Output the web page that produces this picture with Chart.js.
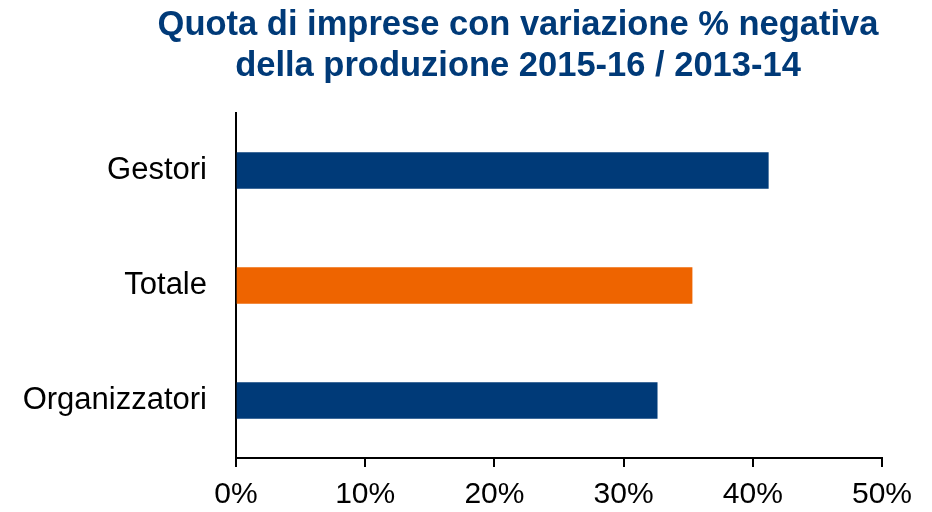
<!DOCTYPE html>
<html>
<head>
<meta charset="utf-8">
<script src="https://cdn.jsdelivr.net/npm/chart.js@4"></script>
<style>
  html, body { margin: 0; padding: 0; background: #fff; }
  #wrap { width: 932px; height: 512px; }
</style>
</head>
<body>
<div id="wrap"><canvas id="quotaChart"></canvas></div>
<script>
// Quota di imprese con variazione % negativa
const categories = ["Gestori", "Totale", "Organizzatori"];
const shares = [41.2, 35.3, 32.6];
const barColors = ["#003a78", "#ee6400", "#003a78"];
const xTicks = [0, 10, 20, 30, 40, 50];
const titleLines = ["Quota di imprese con variazione % negativa", "della produzione 2015-16 / 2013-14"];

const titlePlugin = {
  id: "titleLines",
  afterDraw(chart) {
    const c = chart.ctx;
    c.save();
    c.fillStyle = "#003a78";
    c.font = "bold 34.5px 'Liberation Sans', Arial, sans-serif";
    c.textAlign = "center";
    c.textBaseline = "alphabetic";
    titleLines.forEach((t, i) => c.fillText(t, 518, 35 + i * 41));
    c.restore();
  },
};

const ctx = document.getElementById("quotaChart").getContext("2d");
new Chart(ctx, {
  type: "bar",
  data: {
    labels: categories,
    datasets: [
      {
        label: "Quota",
        data: shares,
        backgroundColor: barColors,
        barThickness: 36,
      },
    ],
  },
  options: {
    indexAxis: "y",
    responsive: true,
    maintainAspectRatio: false,
    animation: false,
    layout: { padding: { top: 113, right: 50, left: 0, bottom: 0 } },
    plugins: {
      legend: { display: false },
      tooltip: { enabled: false },
    },
    scales: {
      x: {
        min: 0,
        max: 50,
        afterBuildTicks: (s) => { s.ticks = xTicks.map((v) => ({ value: v })); },
        afterFit: (s) => { s.height = 54; },
        grid: { drawOnChartArea: false, drawTicks: true, tickLength: 9, color: "#000", lineWidth: 2 },
        border: { color: "#000", width: 2 },
        ticks: {
          color: "#000",
          padding: 10,
          maxRotation: 0,
          font: { family: "'Liberation Sans', Arial, sans-serif", size: 30 },
          callback: (v) => v + "%",
        },
      },
      y: {
        afterFit: (s) => { s.width = 236; },
        grid: { display: false },
        border: { color: "#000", width: 2 },
        ticks: {
          color: "#000",
          padding: 21,
          font: { family: "'Liberation Sans', Arial, sans-serif", size: 31 },
        },
      },
    },
  },
  plugins: [titlePlugin],
});
</script>
</body>
</html>
